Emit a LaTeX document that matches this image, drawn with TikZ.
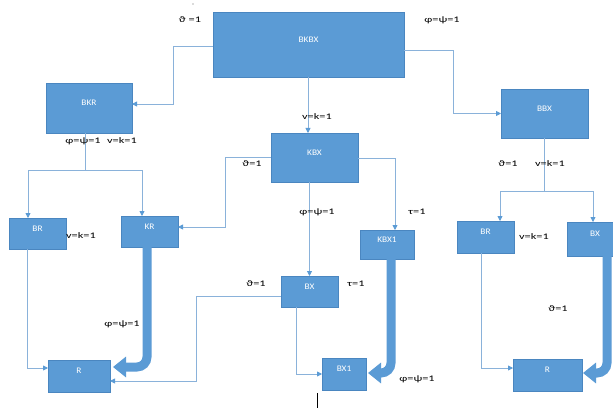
\documentclass[tikz,border=0pt]{standalone}
\usepackage{fontspec}
\setmainfont{Carlito}
\newfontfamily\lblfont[FakeStretch=1.45]{Carlito}
\newfontfamily\boxfont[FakeStretch=1.1]{Carlito}
\usetikzlibrary{arrows.meta,calc}
\definecolor{boxfill}{HTML}{5B9BD5}
\definecolor{boxline}{HTML}{4A86C0}
\definecolor{thinline}{HTML}{8AB2DA}
\begin{document}
\begin{tikzpicture}[x=1pt,y=-1pt,
  box/.style={draw=boxline, fill=boxfill, line width=0.6pt, inner sep=0pt, outer sep=0pt,
    text=white, font=\boxfont\fontsize{8.5}{10}\selectfont, text height=6pt, text depth=10.6pt},
  conn/.style={draw=thinline, line width=0.8pt, -{Triangle[length=5pt,width=5pt,color=boxfill]}},
  plain/.style={draw=thinline, line width=0.8pt},
  big/.style={draw=boxfill, line width=9pt, rounded corners=10pt, -{Triangle[length=13pt,width=20pt]}},
  lbl/.style={font=\lblfont\fontsize{8.5}{10}\selectfont, text=black, inner sep=0pt}]
\useasboundingbox (0,0) rectangle (613,409);
\clip (0,0) rectangle (613,409);
\fill[white] (0,0) rectangle (613,409);

% boxes
\node[box, minimum width=191, minimum height=65] (BKBX) at (308.5,44.5) {BKBX};
\node[box, minimum width=86, minimum height=50] (BKR) at (89,108) {BKR};
\node[box, minimum width=57, minimum height=31] (BR) at (37.5,233.5) {BR};
\node[box, minimum width=57, minimum height=31] (KR) at (149.5,231.5) {KR};
\node[box, minimum width=87, minimum height=49] (KBX) at (314.5,157.5) {KBX};
\node[box, minimum width=54, minimum height=29] (KBX1) at (387,244.5) {KBX1};
\node[box, minimum width=87, minimum height=49] (BBX) at (544.5,113.5) {BBX};
\node[box, minimum width=57, minimum height=32] (BRr) at (485.5,237) {BR};
\node[box, minimum width=56, minimum height=34] (BXr) at (595,239) {BX};
\node[box, minimum width=62, minimum height=32] (R) at (79,376) {R};
\node[box, minimum width=57, minimum height=31] (BXm) at (309.5,291.5) {BX};
\node[box, minimum width=44, minimum height=32] (BX1) at (344,374) {BX1};
\node[box, minimum width=69, minimum height=32] (Rr) at (547.5,375) {R};

% thin connectors
\draw[conn] ([yshift=-1.5pt]BKBX.west) -- ++(-40,0) |- ([yshift=4pt]BKR.east);
\draw[conn] ([yshift=-5.5pt]BKBX.east) -- ++(49,0) |- (BBX.west);
\draw[conn] ([xshift=-0.5pt]BKBX.south) -- ([xshift=-0.5pt]BKBX.south |- KBX.north);

\draw[plain] ([xshift=-4pt]BKR.south) -- ++(0,37) coordinate (j1);
\draw[conn] (j1) -| ([xshift=-9.5pt]BR.north);
\draw[conn] (j1) -| ([xshift=-7.5pt]KR.north);
\draw[conn] ([xshift=-10.5pt]BR.south) |- ([yshift=8pt]R.west);

\draw[conn] ([yshift=0.5pt]KBX.west) -- ++(-46,0) |- ([yshift=4.5pt]KR.east);
\draw[conn] (BXm.north |- KBX.south) -- (BXm.north);
\draw[conn] ([yshift=-0.5pt]KBX.east) -| ([xshift=8pt]KBX1.north);

\draw[conn] ([yshift=-4.5pt]BXm.west) -- ++(-85,0) |- ([yshift=-5pt]R.east);
\draw[conn] ([xshift=-13.5pt]BXm.south) |- (BX1.west);

\draw[plain] ([xshift=-0.5pt]BBX.south) -- ++(0,53) coordinate (j2);
\draw[conn] (j2) -| ([xshift=14.5pt]BRr.north);
\draw[conn] (j2) -| ([xshift=-2pt]BXr.north);
\draw[conn] ([xshift=-4.5pt]BRr.south) |- ([yshift=7pt]Rr.west);

% thick arrows
\draw[big] ([xshift=-2.5pt]KR.south) |- ([xshift=3pt,yshift=9pt]R.east);
\draw[big] ([xshift=4pt]KBX1.south) |- ([xshift=2pt,yshift=1pt]BX1.east);
\draw[big] ([xshift=12pt]BXr.south) |- ([xshift=1pt,yshift=2pt]Rr.east);

% labels
\node[lbl] (l1) at (190,20) {ϑ =1};
\node[lbl] (l2) at (442,20) {φ=ψ=1};
\node[lbl] (l3) at (317,117) {v=k=1};
\node[lbl] (l4) at (83,141) {φ=ψ=1};
\node[lbl] (l5) at (122,141) {v=k=1};
\node[lbl] (l6) at (81,236) {v=k=1};
\node[lbl] (l7) at (252,164) {ϑ=1};
\node[lbl] (l8) at (317,212) {φ=ψ=1};
\node[lbl] (l9) at (417,212) {τ=1};
\node[lbl] (l10) at (122,324) {φ=ψ=1};
\node[lbl] (l11) at (256,284) {ϑ=1};
\node[lbl] (l12) at (356,284) {τ=1};
\node[lbl] (l13) at (417,379) {φ=ψ=1};
\node[lbl] (l14) at (508,164) {ϑ=1};
\node[lbl] (l15) at (550,164) {v=k=1};
\node[lbl] (l16) at (534,237) {v=k=1};
\node[lbl] (l17) at (558,309) {ϑ=1};

% stray marks
\draw[black, line width=0.7pt] (317,393) -- (317,408);
\fill[black!60] (193,4) circle (0.6);
\end{tikzpicture}
\end{document}
